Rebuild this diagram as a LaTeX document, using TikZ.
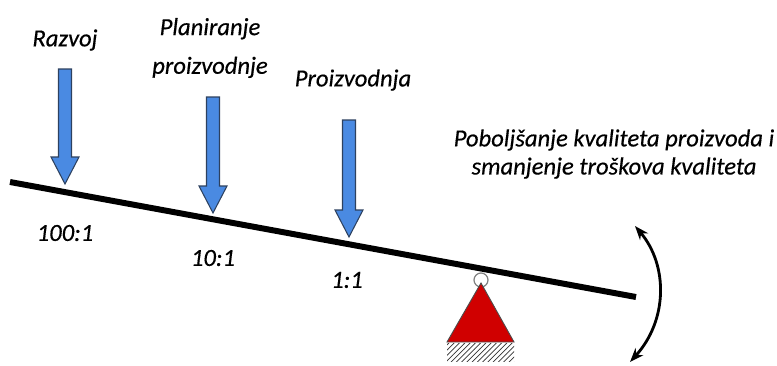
\documentclass[tikz,border=0pt]{standalone}
\usepackage{fontspec}
\setmainfont{Carlito}[ItalicFeatures={FakeBold=0.4}]
\usetikzlibrary{arrows.meta,patterns}
\definecolor{arrowblue}{RGB}{74,138,226}
\definecolor{arrowedge}{RGB}{45,65,95}
\definecolor{fulcrumred}{RGB}{208,0,0}
% block arrow pushing down on the beam: #1 = x, #2 = top, #3 = tip
\newcommand{\pusharrow}[3]{%
  \filldraw[push arrow] ({#1-6.5},#2) -- ({#1+6.5},#2) -- ({#1+6.5},{#3-27}) -- ({#1+14},{#3-27})
    -- (#1,#3) -- ({#1-14},{#3-27}) -- ({#1-6.5},{#3-27}) -- cycle;}
\begin{document}
\begin{tikzpicture}[x=0.02cm, y=-0.02cm,
  label text/.style={font=\fontsize{14}{16}\selectfont\itshape, inner sep=0pt},
  push arrow/.style={fill=arrowblue, draw=arrowedge, line width=0.6pt},
  beam line/.style={line width=3.4pt, black}]
\useasboundingbox (0,0) rectangle (777,365);
\begin{scope}[every node/.style={label text}]
\node (razvoj) at (65,40) {Razvoj};
\node[align=center, font=\fontsize{14}{22}\selectfont\itshape] (planiranje) at (210,48) {Planiranje\\proizvodnje};
\node (proizvodnja) at (353,80) {Proizvodnja};
\node[align=center] (poboljsanje) at (614,154) {Poboljšanje kvaliteta proizvoda i\\smanjenje troškova kvaliteta};
\node (r100) at (65,233) {100:1};
\node (r10) at (213,258) {10:1};
\node (r1) at (347,280) {1:1};
\end{scope}
\begin{scope}
\pusharrow{65}{69}{184}
\pusharrow{213}{97}{213}
\pusharrow{349}{120}{237}
%\pusharrow{}{}{}
\end{scope}
\begin{scope}
\coordinate (beamleft) at (10,182);
\coordinate (beamright) at (636,297);
\coordinate (pivot) at (481,280);
\draw[gray, fill=white, line width=0.7pt] (pivot) circle (0.14cm);
\filldraw[fill=fulcrumred, draw=black!70, line width=0.5pt] (481,283) -- (514,342) -- (447,342) -- cycle;
\fill[pattern=north east lines, pattern color=black!80] (447,343) rectangle (514,361);
\draw[beam line] (beamleft) -- (beamright);
\coordinate (swingtop) at (635,226);
\coordinate (swingbottom) at (630,362);
\draw[line width=1.6pt, {Stealth[length=8pt,width=6pt]}-{Stealth[length=8pt,width=6pt]}] (swingtop) .. controls (668,265) and (668,320) .. (swingbottom);
\end{scope}
\end{tikzpicture}
\end{document}
